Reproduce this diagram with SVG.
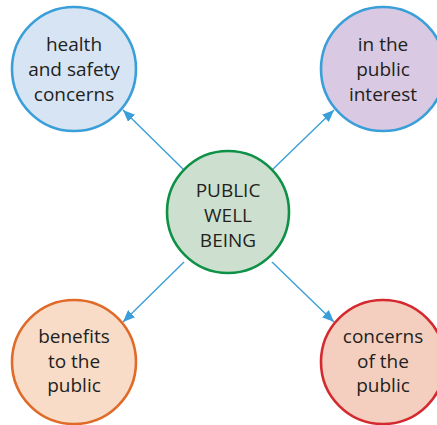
<svg xmlns="http://www.w3.org/2000/svg" width="437" height="425" viewBox="0 0 437 425">
<defs>
<style>
.t{font-family:"Open Sans","Liberation Sans",sans-serif;font-size:19px;fill:#231f20;text-anchor:middle}
.c{stroke-width:2.6}
.ln{stroke:#3a9fd8;stroke-width:1.4;fill:none}
</style>
<marker id="ah" viewBox="0 0 12 10" refX="12" refY="5" markerWidth="12" markerHeight="10" markerUnits="userSpaceOnUse" orient="auto">
<path d="M0,0 L12,5 L0,10 Z" fill="#3a9fd8"/>
</marker>
</defs>
<rect width="437" height="425" fill="#ffffff"/>
<g id="connectors">
<line class="ln" x1="184" y1="170" x2="123" y2="110" marker-end="url(#ah)"/>
<line class="ln" x1="272" y1="170" x2="334" y2="110" marker-end="url(#ah)"/>
<line class="ln" x1="184" y1="262" x2="123" y2="322" marker-end="url(#ah)"/>
<line class="ln" x1="272" y1="262" x2="334" y2="322" marker-end="url(#ah)"/>
</g>
<g id="center">
<circle class="c" cx="228" cy="212" r="61" fill="#cde0cf" stroke="#0e9146"/>
<text class="t" x="228" y="197">PUBLIC</text>
<text class="t" x="228" y="222">WELL</text>
<text class="t" x="228" y="247">BEING</text>
</g>
<g id="health">
<circle class="c" cx="74" cy="69" r="62" fill="#d6e4f4" stroke="#3a9fd8"/>
<text class="t" x="74" y="51">health</text>
<text class="t" x="74" y="76">and safety</text>
<text class="t" x="74" y="101">concerns</text>
</g>
<g id="interest">
<circle class="c" cx="383" cy="69" r="62" fill="#d9c9e3" stroke="#3a9fd8"/>
<text class="t" x="383" y="51">in the</text>
<text class="t" x="383" y="76">public</text>
<text class="t" x="383" y="101">interest</text>
</g>
<g id="benefits">
<circle class="c" cx="74" cy="362" r="62" fill="#f8dcc8" stroke="#e06a28"/>
<text class="t" x="74" y="343">benefits</text>
<text class="t" x="74" y="368">to the</text>
<text class="t" x="74" y="392">public</text>
</g>
<g id="concerns">
<circle class="c" cx="383" cy="362" r="62" fill="#f4cfc0" stroke="#d42a2f"/>
<text class="t" x="383" y="343">concerns</text>
<text class="t" x="383" y="368">of the</text>
<text class="t" x="383" y="392">public</text>
</g>
</svg>
